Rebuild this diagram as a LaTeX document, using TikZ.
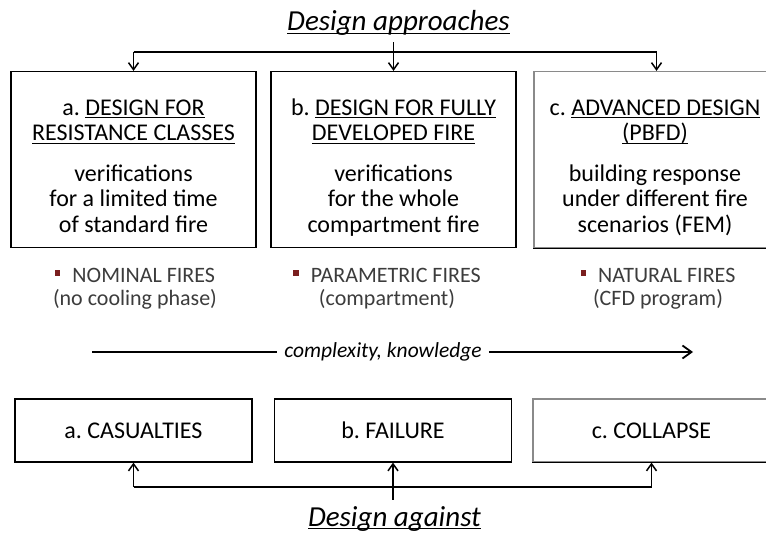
\documentclass[tikz,border=0pt]{standalone}
\usepackage{fontspec}
\setmainfont{Carlito}
\usetikzlibrary{arrows.meta}
\definecolor{bulletred}{HTML}{7A1F1F}
\definecolor{softtext}{HTML}{3C3C3C}
\definecolor{paleframe}{HTML}{8A8A8A}
\frenchspacing
\newsavebox\undlbox
\newcommand\undl[1]{\sbox\undlbox{#1}\rlap{\rule[-3pt]{\wd\undlbox}{1.2pt}}\usebox\undlbox}
\newcommand\sqbullet{\textcolor{bulletred}{\raisebox{6.5pt}{\rule{5.5pt}{5.5pt}}}\hspace{12pt}}
\begin{document}
\begin{tikzpicture}[x=1pt,y=-1pt,
  bigframe/.style={draw=black,line width=1.2pt,minimum width=245pt,minimum height=176pt,inner sep=0pt},
  smallframe/.style={draw=black,line width=1.2pt,minimum width=237pt,minimum height=63pt,inner sep=0pt,
    text height=16pt,text depth=0pt,font=\fontsize{24}{25.5}\selectfont},
  boxtext/.style={anchor=north,align=center,inner sep=0pt,font=\fontsize{24}{25.5}\selectfont},
  firetext/.style={anchor=north,align=center,inner sep=0pt,text=softtext,font=\fontsize{22}{22}\selectfont},
  heading/.style={anchor=base,inner xsep=2pt,inner ysep=6pt,font=\fontsize{29}{30}\selectfont\itshape},
  link/.style={draw=black,line width=1.5pt},
  tip/.style={-{Straight Barb[length=7pt,width=10pt,line width=1.5pt]}},
  bigtip/.style={-{Straight Barb[length=9pt,width=13pt]}}
]
\useasboundingbox (0,0) rectangle (766,535);
\clip (0,0) rectangle (766,535);

% design approaches
\node[heading] (approaches) at (398.5,31) {\undl{Design approaches}};

\node[bigframe] (ra) at (133.5,159.5) {};
\node[bigframe] (rb) at (393.5,159.5) {};
\node[bigframe,draw=paleframe] (rc) at (656.5,159.5) {};
\draw[line width=1.2pt] (rc.south west) -- (rc.south east);

\node[boxtext] (ta) at (133.5,97.2) {\strut a. \undl{DESIGN FOR}\\ \undl{RESISTANCE CLASSES}\\[15pt]
  verifications\\ for a limited time\\ of standard fire};
\node[boxtext] (tb) at (393.5,97.2) {\strut b. \undl{DESIGN FOR FULLY}\\ \undl{DEVELOPED FIRE}\\[15pt]
  verifications\\ for the whole\\ compartment fire};
\node[boxtext] (tc) at (655,97.2) {\strut c. \undl{ADVANCED DESIGN}\\ \undl{(PBFD)}\\[15pt]
  building response\\ under different fire\\ scenarios (FEM)};

\coordinate (topbus) at (0,52);
\draw[link,tip] (approaches.south -| rb.north) -- (rb.north);
\draw[link] (ra.north |- topbus) -- (rc.north |- topbus);
\draw[link,tip] (ra.north |- topbus) -- (ra.north);
\draw[link,tip] (rc.north |- topbus) -- (rc.north);

% fire models
\node[firetext] (fa) at (135,266.6) {\strut\sqbullet NOMINAL FIRES\\ (no cooling phase)};
\node[firetext] (fb) at (387,266.6) {\strut\sqbullet PARAMETRIC FIRES\\ (compartment)};
\node[firetext] (fc) at (658,266.6) {\strut\sqbullet NATURAL FIRES\\ (CFD program)};

% complexity axis
\node[inner xsep=7pt,font=\fontsize{21.5}{22}\selectfont\itshape] (axis) at (383,352) {complexity, knowledge};
\coordinate (axisstart) at (92,352);
\coordinate (axisend) at (693,352);
\draw[link,line width=1.8pt] (axisstart) -- (axis.west);
\draw[link,line width=1.8pt,bigtip] (axis.east) -- (axisend);

% design against
\node[smallframe] (ca) at (133.5,430.5) {a. CASUALTIES};
\node[smallframe] (cb) at (393,430.5) {b. FAILURE};
\node[smallframe,draw=paleframe] (cc) at (651.5,430.5) {c. COLLAPSE};
\draw[line width=1.2pt] (cc.south west) -- (cc.south east);

\node[heading] (against) at (394.5,526) {\undl{Design against}};

\coordinate (botbus) at (0,487);
\draw[link] (ca.south |- botbus) -- (cc.south |- botbus);
\draw[link,tip] (ca.south |- botbus) -- (ca.south);
\draw[link,tip] (cc.south |- botbus) -- (cc.south);
\draw[link,tip] (against.north -| cb.south) -- (cb.south);
\end{tikzpicture}
\end{document}
